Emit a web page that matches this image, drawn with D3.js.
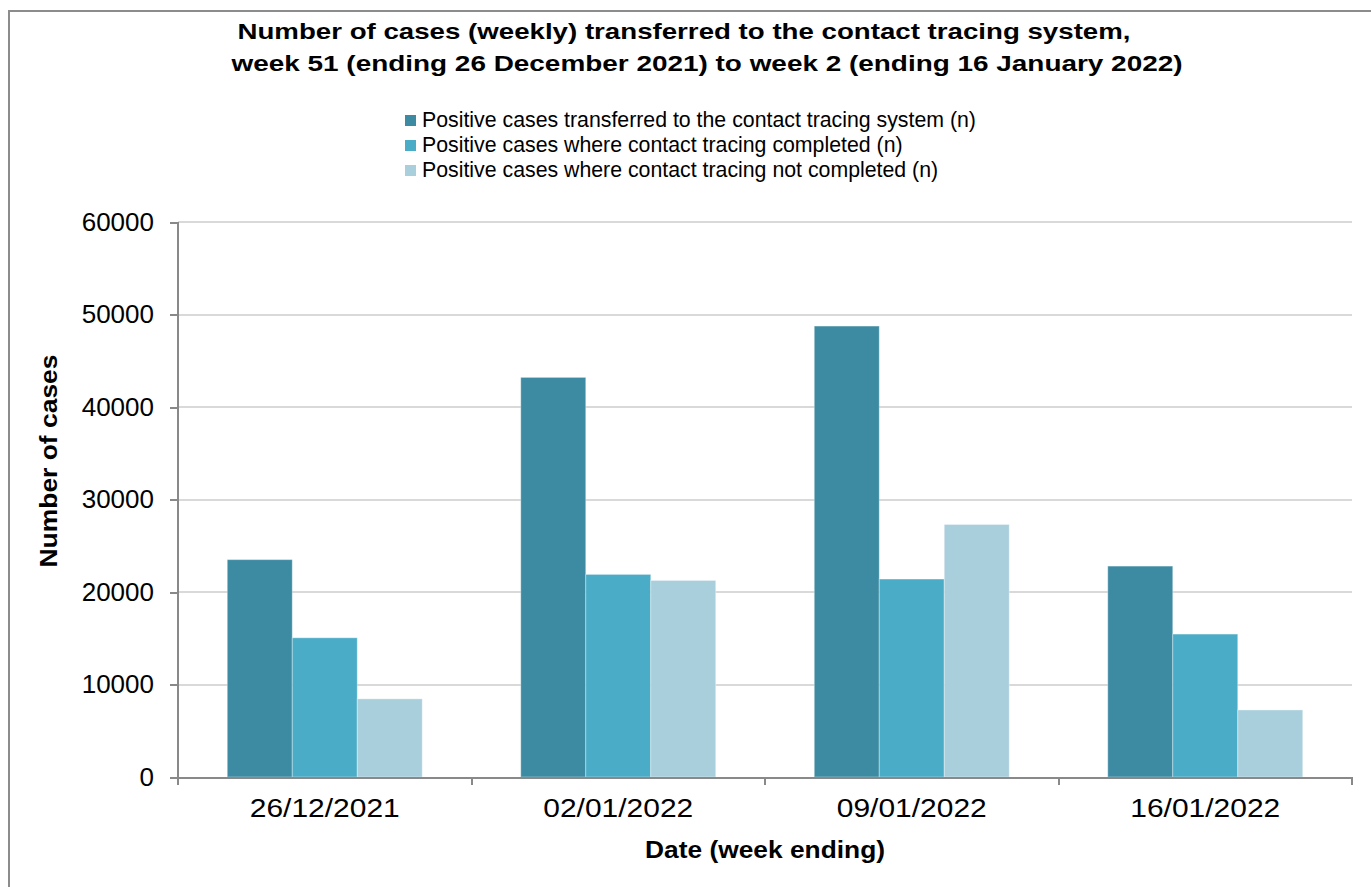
<!DOCTYPE html>
<meta charset="utf-8">
<head>
<style>
body {
  margin: 0;
  font-family: "Liberation Sans", Arial, sans-serif;
  background: #fff;
}
.grid line {
  stroke: #d9d9d9;
  stroke-width: 2px;
  shape-rendering: crispEdges;
}
.axis path,
.axis line {
  stroke: #898989;
  stroke-width: 2px;
  fill: none;
  shape-rendering: crispEdges;
}
.axis text {
  font-size: 26px;
  fill: #000;
}
</style>
<script src="https://d3js.org/d3.v7.min.js"></script>
</head>
<body>
<div id="chart"></div>
<script>

var weeks = ["26/12/2021", "02/01/2022", "09/01/2022", "16/01/2022"];
var seriesNames = [
  "Positive cases transferred to the contact tracing system (n)",
  "Positive cases where contact tracing completed (n)",
  "Positive cases where contact tracing not completed (n)"
];
var transferred = [23500, 43200, 48750, 22800];
var completed = [15050, 21900, 21400, 15450];
var notCompleted = [8450, 21250, 27300, 7250];
var yTicks = [0, 10000, 20000, 30000, 40000, 50000, 60000];
var colours = ["#3d8ba3", "#4aacc6", "#a9cfdc"];

var W = 1371, H = 887;
var margin = {top: 222, right: 19, bottom: 110, left: 178},
  width = W - margin.left - margin.right,
  height = H - margin.top - margin.bottom;

var root = d3.select("#chart").append("svg")
  .attr("width", W)
  .attr("height", H);

// outer frame
root.append("rect")
  .attr("x", 9).attr("y", 11)
  .attr("width", W + 20).attr("height", H + 20)
  .attr("fill", "none")
  .attr("stroke", "#8c8c8c")
  .attr("stroke-width", 2);

// title (the original text is drawn wide, so stretch it)
root.append("text")
  .attr("x", 684).attr("y", 39)
  .attr("text-anchor", "middle")
  .attr("textLength", 893).attr("lengthAdjust", "spacingAndGlyphs")
  .style("font-size", "22px").style("font-weight", "bold")
  .text("Number of cases (weekly) transferred to the contact tracing system,");
root.append("text")
  .attr("x", 707).attr("y", 71)
  .attr("text-anchor", "middle")
  .attr("textLength", 951).attr("lengthAdjust", "spacingAndGlyphs")
  .style("font-size", "22px").style("font-weight", "bold")
  .text("week 51 (ending 26 December 2021) to week 2 (ending 16 January 2022)");

// legend
var legend = root.append("g").attr("transform", "translate(405,115)");
legend.selectAll("g")
  .data(seriesNames)
  .enter().append("g")
    .attr("transform", function(d, i) { return "translate(0," + (i * 25) + ")"; })
    .each(function(d, i) {
      var g = d3.select(this);
      g.append("rect").attr("width", 11).attr("height", 11).attr("fill", colours[i]);
      g.append("text").attr("x", 17).attr("y", 12).style("font-size", "21.3px").text(d);
    });

var svg = root.append("g")
  .attr("transform", "translate(" + margin.left + "," + margin.top + ")");

var y = d3.scaleLinear().domain([0, 60000]).range([height, 0]);
var x0 = d3.scaleBand().domain(weeks).range([0, width]).paddingInner(0).paddingOuter(0);
var x1 = d3.scaleBand().domain([0, 1, 2]).range([0, x0.bandwidth()]).paddingInner(0).paddingOuter(0.758);

// gridlines
svg.append("g")
  .attr("class", "grid")
  .selectAll("line")
  .data(yTicks.slice(1))
  .enter().append("line")
    .attr("x1", 0).attr("x2", width)
    .attr("y1", function(d) { return y(d); })
    .attr("y2", function(d) { return y(d); });

// bars
var rows = weeks.map(function(w, i) {
  return {week: w, values: [transferred[i], completed[i], notCompleted[i]]};
});
svg.selectAll(".grp")
  .data(rows)
  .enter().append("g")
    .attr("class", "grp")
    .attr("transform", function(d) { return "translate(" + x0(d.week) + ",0)"; })
  .selectAll("rect")
  .data(function(d) { return d.values.map(function(v, k) { return {k: k, v: v}; }); })
  .enter().append("rect")
    .attr("x", function(d) { return x1(d.k); })
    .attr("width", x1.bandwidth())
    .attr("y", function(d) { return y(d.v); })
    .attr("height", function(d) { return height - y(d.v); })
    .attr("fill", function(d) { return colours[d.k]; })
    .attr("stroke", "rgba(255,255,255,0.35)")
    .attr("stroke-width", 1);

// y axis
svg.append("g")
  .attr("class", "axis")
  .call(d3.axisLeft(y).tickValues(yTicks).tickFormat(d3.format("d")).tickSize(8).tickPadding(16).tickSizeOuter(0))
  .call(function(g) { g.select(".domain").attr("d", "M0," + (height + 8) + "V0"); });

// x axis
var xa = svg.append("g")
  .attr("class", "axis")
  .attr("transform", "translate(0," + height + ")")
  .call(d3.axisBottom(x0).tickSize(0).tickPadding(22).tickSizeOuter(0));
xa.selectAll(".tick text")
  .attr("dy", "0.71em")
  .attr("textLength", 150).attr("lengthAdjust", "spacingAndGlyphs");
xa.selectAll(".sep")
  .data(d3.range(weeks.length + 1))
  .enter().append("line")
    .attr("class", "sep")
    .attr("x1", function(i) { return i * x0.bandwidth(); })
    .attr("x2", function(i) { return i * x0.bandwidth(); })
    .attr("y1", 0).attr("y2", 8);

// axis titles
root.append("text")
  .attr("x", margin.left + width / 2).attr("y", 858)
  .attr("text-anchor", "middle")
  .attr("textLength", 240).attr("lengthAdjust", "spacingAndGlyphs")
  .style("font-size", "23px").style("font-weight", "bold")
  .text("Date (week ending)");
root.append("text")
  .attr("transform", "translate(57,461) rotate(-90)")
  .attr("text-anchor", "middle")
  .attr("textLength", 213).attr("lengthAdjust", "spacingAndGlyphs")
  .style("font-size", "23px").style("font-weight", "bold")
  .text("Number of cases");

</script>
</body>
</html>
